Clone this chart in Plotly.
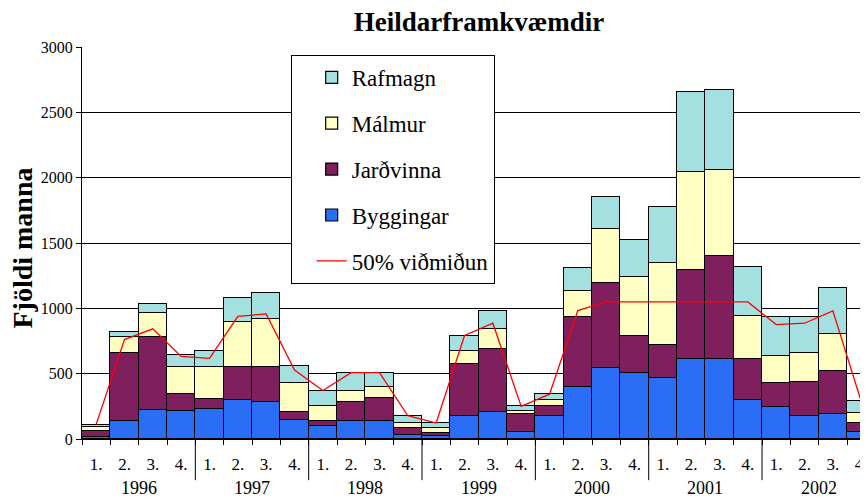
import plotly.graph_objects as go

years = ["1996", "1997", "1998", "1999", "2000", "2001", "2002"]
quarters = ["1.", "2.", "3.", "4."]

byggingar = [15, 135, 221, 218, 231, 297, 287, 147, 96, 135, 135, 33, 23, 175,
             203, 51, 175, 397, 543, 504, 464, 614, 614, 301, 245, 176, 191, 53]
jardvinna = [50, 527, 563, 127, 74, 256, 266, 59, 39, 152, 182, 51, 20, 396,
             487, 142, 81, 533, 654, 283, 252, 677, 789, 313, 183, 260, 331, 72]
malmur = [30, 120, 180, 208, 248, 343, 368, 225, 114, 81, 79, 38, 38, 104,
          153, 25, 41, 206, 408, 456, 629, 752, 652, 331, 211, 219, 285, 74]
rafmagn = [15, 35, 71, 87, 117, 183, 196, 125, 116, 135, 112, 53, 41, 114,
           137, 33, 46, 176, 249, 283, 428, 613, 619, 374, 291, 282, 352, 89]
vidmidun = [112, 761, 843, 632, 617, 939, 957, 528, 371, 508, 508, 178, 122, 792,
            886, 249, 343, 983, 1049, 1049, 1049, 1049, 1049, 1049, 876, 886, 981, 288]

# category keys (year + quarter); displayed text is the quarter only
cats = [f"{y} {q}" for y in years for q in quarters]
qtext = [q for y in years for q in quarters]

FONT = "Liberation Serif"

series = [
    ("Byggingar", byggingar, "#2A6EF5", 4),
    ("Jarðvinna", jardvinna, "#7F1F5E", 3),
    ("Málmur", malmur, "#FFFFC4", 2),
    ("Rafmagn", rafmagn, "#A4E0E0", 1),
]

fig = go.Figure()
for name, vals, color, rank in series:
    fig.add_trace(go.Bar(
        x=cats, y=vals, name=name, legendrank=rank, legendgroup=name,
        marker=dict(color=color, line=dict(color="black", width=1.2)),
    ))
fig.add_trace(go.Scatter(
    x=cats, y=vidmidun, name="50% viðmiðun", mode="lines", legendrank=5,
    legendgroup="line", line=dict(color="#FF0000", width=1.3),
))

nq = len(quarters)
# year group labels and dividers between year groups
for i, yr in enumerate(years):
    fig.add_annotation(x=i * nq + (nq - 1) / 2, xref="x", y=-0.125, yref="paper",
                       text=yr, showarrow=False, yanchor="middle",
                       font=dict(size=18, family=FONT, color="black"))
    if i > 0:
        fig.add_shape(type="line", xref="x", yref="paper",
                      x0=i * nq - 0.5, x1=i * nq - 0.5, y0=0, y1=-0.105,
                      line=dict(color="black", width=1))

# y-axis title
fig.add_annotation(x=-0.0763, xref="paper", y=0.486, yref="paper",
                   text="<b>Fjöldi manna</b>", textangle=-90, showarrow=False,
                   xanchor="center", yanchor="middle",
                   font=dict(size=28, family=FONT, color="black"))

fig.update_layout(
    width=860, height=491,
    margin=dict(l=74, r=0, t=39, b=60),
    barmode="stack", bargap=0,
    paper_bgcolor="white", plot_bgcolor="white",
    font=dict(family=FONT, color="black"),
    title=dict(text="<b>Heildarframkvæmdir</b>", x=0.5477, xanchor="center",
               y=0.9715, yanchor="middle", font=dict(size=27, family=FONT)),
    legend=dict(x=0.2655, y=0.98, xanchor="left", yanchor="top",
                bgcolor="white", bordercolor="black", borderwidth=1,
                font=dict(size=23, family=FONT), traceorder="grouped",
                tracegroupgap=13, indentation=20),
    xaxis=dict(type="category", categoryorder="array", categoryarray=cats,
               range=[-0.5, 27.24], tickvals=cats, ticktext=qtext,
               showline=True, linecolor="black", linewidth=1,
               ticks="outside", ticklen=5, tickcolor="black", tickson="boundaries",
               ticklabelstandoff=10,
               tickfont=dict(size=17, family=FONT), showgrid=False),
    yaxis=dict(range=[0, 3000], dtick=500, showgrid=True, gridcolor="black",
               gridwidth=1, showline=True, linecolor="black", linewidth=1,
               ticks="outside", ticklen=5, tickcolor="black",
               tickfont=dict(size=16, family=FONT), zeroline=False),
)

fig.write_html("out.html")
